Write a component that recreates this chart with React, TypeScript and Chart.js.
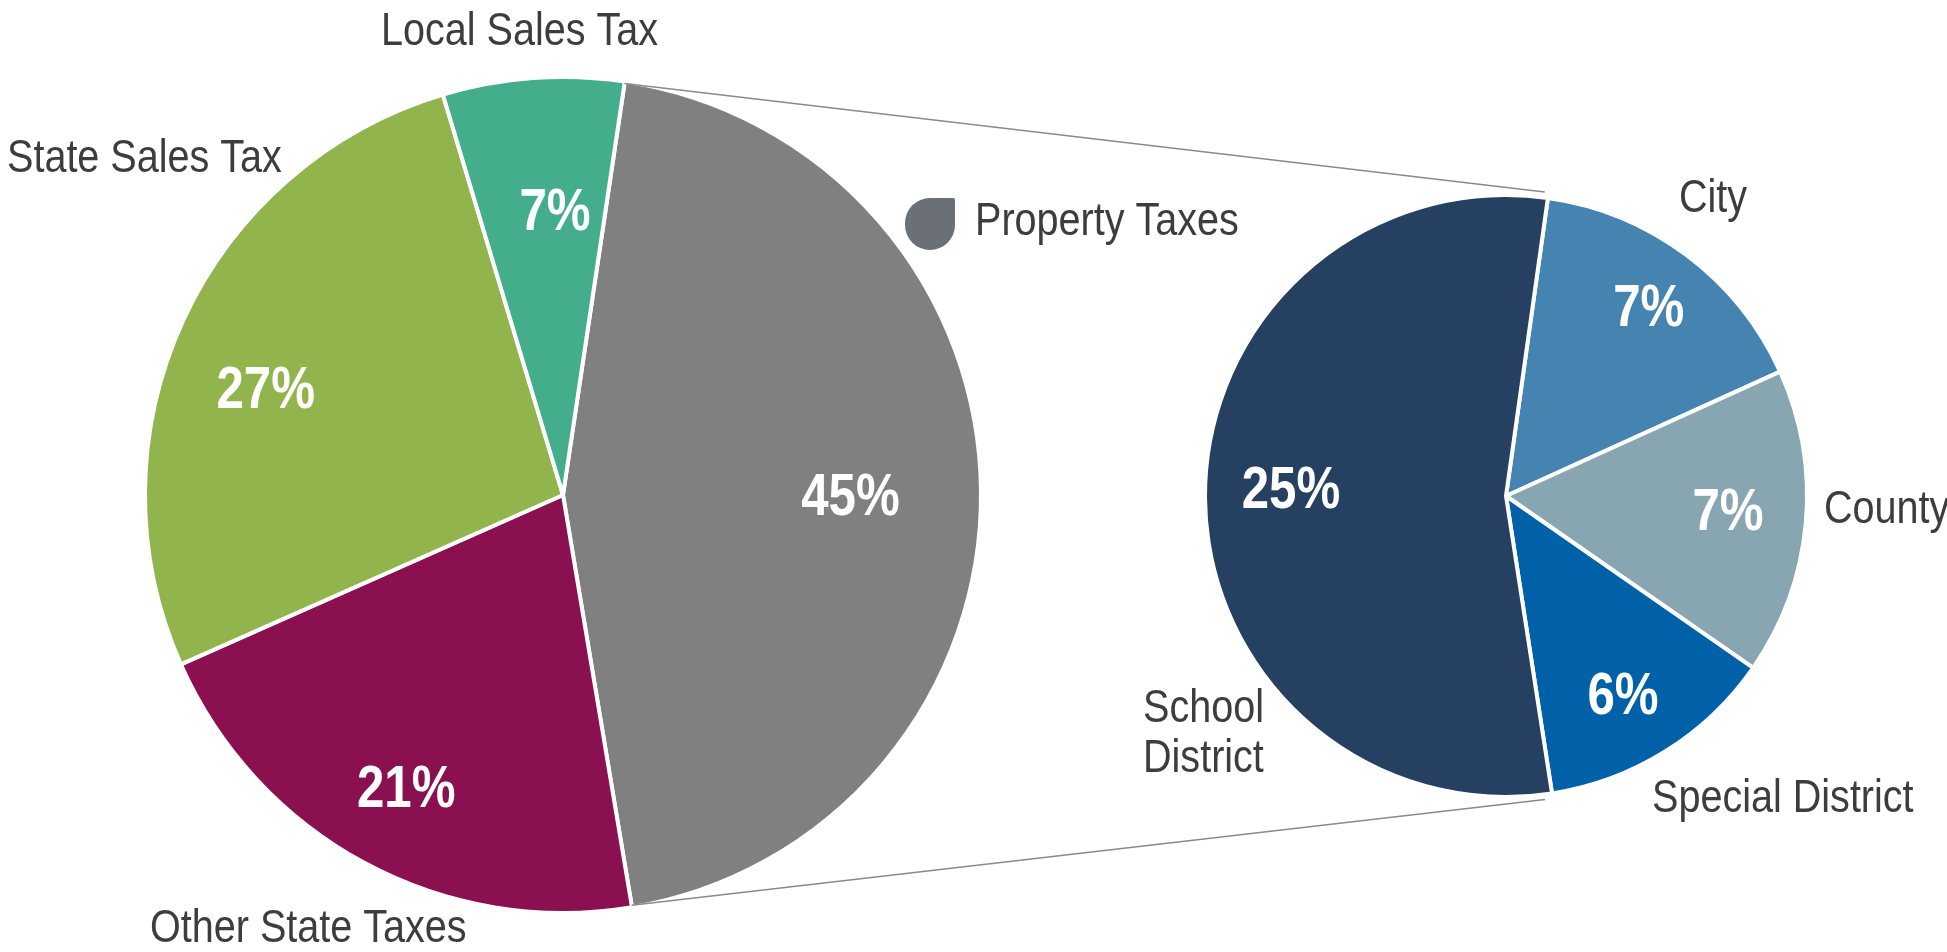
import React, { useEffect, useRef } from "react";
import { Chart, registerables } from "chart.js";

Chart.register(...registerables);

// ---------- data ----------
const leftCategories = ["Property Taxes", "Other State Taxes", "State Sales Tax", "Local Sales Tax"];
const leftValues = [45, 21, 27, 7];
const leftPctLabels = ["45%", "21%", "27%", "7%"];

const rightCategories = ["City", "County", "Special District", "School District"];
const rightValues = [7.2, 7.4, 5.8, 24.6];
const rightPctLabels = ["7%", "7%", "6%", "25%"];

// ---------- styles / layout ----------
const W = 1947;
const H = 952;
const leftColors = ["#808080", "#8a1050", "#92b44c", "#43ad8c"];
const rightColors = ["#4583b0", "#88a5b2", "#0061a8", "#264061"];
const BORDER = 4;
const LEFT = { cx: 563, cy: 495, r: 416, rotation: 8.5 };
const RIGHT = { cx: 1506, cy: 496, r: 299, rotation: 8 };
// percentage label placement: [fraction of radius, angle shift in degrees from slice middle]
const leftPctPlace = [
  [0.691, 0.3],
  [0.795, 0],
  [0.76, -4.8],
  [0.688, 2.5],
];
const rightPctPlace = [
  [0.797, 0],
  [0.744, -1.8],
  [0.766, 1.3],
  [0.72, 2.8],
];
const leftNamePos = [
  { x: 975, y: 235, lines: ["Property Taxes"] },
  { x: 150, y: 942, lines: ["Other State Taxes"] },
  { x: 7, y: 172, lines: ["State Sales Tax"] },
  { x: 381, y: 45, lines: ["Local Sales Tax"] },
];
const rightNamePos = [
  { x: 1679, y: 212, lines: ["City"] },
  { x: 1824, y: 523, lines: ["County"] },
  { x: 1652, y: 812, lines: ["Special District"] },
  { x: 1143, y: 722, lines: ["School", "District"] },
];
const FAMILY = '"Liberation Sans", Arial, sans-serif';
const NAME_FONT = "46px " + FAMILY;
const PCT_FONT = "bold 60px " + FAMILY;
const NAME_NARROW = 0.86;
const PCT_NARROW = 0.82;
const TEXT_COLOR = "#3d3d3d";
const LINE_COLOR = "#8a8a8a";
const MARKER_COLOR = "#6b6f76";

function padFor(p: { cx: number; cy: number; r: number }) {
  const s = p.r + 12;
  return { left: p.cx - s, right: W - p.cx - s, top: p.cy - s, bottom: H - p.cy - s };
}

function narrowText(
  ctx: CanvasRenderingContext2D,
  text: string,
  x: number,
  y: number,
  align: CanvasTextAlign,
  sx: number
) {
  ctx.save();
  ctx.translate(x, y);
  ctx.scale(sx, 1);
  ctx.textAlign = align;
  ctx.textBaseline = "alphabetic";
  ctx.fillText(text, 0, 0);
  ctx.restore();
}

function labelPlugin(
  id: string,
  pct: string[],
  place: number[][],
  names: { x: number; y: number; lines: string[] }[]
) {
  return {
    id,
    afterDatasetsDraw(chart: any) {
      const ctx = chart.ctx as CanvasRenderingContext2D;
      const meta = chart.getDatasetMeta(0);
      ctx.save();
      ctx.font = PCT_FONT;
      ctx.fillStyle = "#ffffff";
      meta.data.forEach((arc: any, i: number) => {
        const { x, y, startAngle, endAngle, outerRadius } = arc.getProps(
          ["x", "y", "startAngle", "endAngle", "outerRadius"],
          true
        );
        const mid = (startAngle + endAngle) / 2 + (place[i][1] * Math.PI) / 180;
        const rr = (outerRadius - BORDER / 2) * place[i][0];
        narrowText(ctx, pct[i], x + Math.cos(mid) * rr, y + Math.sin(mid) * rr + 21, "center", PCT_NARROW);
      });
      ctx.font = NAME_FONT;
      ctx.fillStyle = TEXT_COLOR;
      names.forEach((n) => {
        n.lines.forEach((ln, k) => narrowText(ctx, ln, n.x, n.y + k * 50, "left", NAME_NARROW));
      });
      ctx.restore();
    },
  };
}

export default function App() {
  const leftRef = useRef<HTMLCanvasElement | null>(null);
  const rightRef = useRef<HTMLCanvasElement | null>(null);

  useEffect(() => {
    document.body.style.margin = "0";
    const left = new Chart(leftRef.current as HTMLCanvasElement, {
      type: "pie",
      data: {
        labels: leftCategories,
        datasets: [
          {
            data: leftValues,
            backgroundColor: leftColors,
            borderColor: "#ffffff",
            borderWidth: BORDER,
          },
        ],
      },
      options: {
        animation: false,
        responsive: false,
        events: [],
        rotation: LEFT.rotation,
        radius: LEFT.r + BORDER / 2,
        layout: { padding: padFor(LEFT) },
        plugins: { legend: { display: false }, tooltip: { enabled: false } },
      },
      plugins: [labelPlugin("leftLabels", leftPctLabels, leftPctPlace, leftNamePos)],
    });

    const connector = {
      id: "connector",
      beforeDatasetsDraw(chart: any) {
        const ctx = chart.ctx;
        const lArc: any = left.getDatasetMeta(0).data[0];
        const rMeta = chart.getDatasetMeta(0);
        const rFirst: any = rMeta.data[0];
        const rLast: any = rMeta.data[rMeta.data.length - 1];
        const lr = LEFT.r;
        const rr = RIGHT.r + 8;
        const p1 = { x: lArc.x + Math.cos(lArc.startAngle) * lr, y: lArc.y + Math.sin(lArc.startAngle) * lr };
        const p2 = { x: rFirst.x + Math.cos(rFirst.startAngle) * rr - 4, y: rFirst.y + Math.sin(rFirst.startAngle) * rr };
        const p3 = { x: lArc.x + Math.cos(lArc.endAngle) * lr, y: lArc.y + Math.sin(lArc.endAngle) * lr };
        const p4 = { x: rLast.x + Math.cos(rLast.startAngle) * rr - 8, y: rLast.y + Math.sin(rLast.startAngle) * rr };
        ctx.save();
        ctx.strokeStyle = LINE_COLOR;
        ctx.lineWidth = 1.5;
        ctx.beginPath();
        ctx.moveTo(p1.x, p1.y);
        ctx.lineTo(p2.x, p2.y);
        ctx.moveTo(p3.x, p3.y);
        ctx.lineTo(p4.x, p4.y);
        ctx.stroke();
        ctx.fillStyle = MARKER_COLOR;
        ctx.beginPath();
        (ctx as any).roundRect(905, 198, 50, 52, [25, 2, 25, 25]);
        ctx.fill();
        ctx.restore();
      },
    };

    const right = new Chart(rightRef.current as HTMLCanvasElement, {
      type: "pie",
      data: {
        labels: rightCategories,
        datasets: [
          {
            data: rightValues,
            backgroundColor: rightColors,
            borderColor: "#ffffff",
            borderWidth: BORDER,
          },
        ],
      },
      options: {
        animation: false,
        responsive: false,
        events: [],
        rotation: RIGHT.rotation,
        radius: RIGHT.r + BORDER / 2,
        layout: { padding: padFor(RIGHT) },
        plugins: { legend: { display: false }, tooltip: { enabled: false } },
      },
      plugins: [connector, labelPlugin("rightLabels", rightPctLabels, rightPctPlace, rightNamePos)],
    });

    return () => {
      right.destroy();
      left.destroy();
    };
  }, []);

  const cs: React.CSSProperties = { position: "absolute", left: 0, top: 0, width: W, height: H };
  return (
    <div style={{ position: "fixed", left: 0, top: 0, width: W, height: H, background: "#ffffff" }}>
      <canvas ref={leftRef} width={W} height={H} style={cs} />
      <canvas ref={rightRef} width={W} height={H} style={cs} />
    </div>
  );
}
